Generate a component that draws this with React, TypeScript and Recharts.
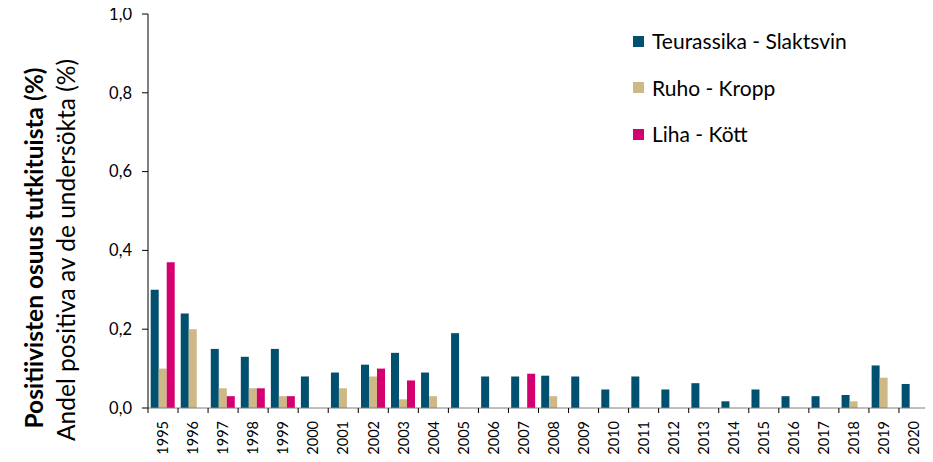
import React from 'react';
import { BarChart, Bar, XAxis, YAxis } from 'recharts';

const years = ['1995','1996','1997','1998','1999','2000','2001','2002','2003','2004','2005','2006','2007','2008','2009','2010','2011','2012','2013','2014','2015','2016','2017','2018','2019','2020'];
const slaktsvin = [0.30,0.24,0.15,0.13,0.15,0.08,0.09,0.11,0.14,0.09,0.19,0.08,0.08,0.082,0.08,0.047,0.08,0.047,0.063,0.017,0.047,0.03,0.03,0.033,0.108,0.061];
const kropp = [0.10,0.20,0.05,0.05,0.03,null,0.05,0.08,0.022,0.03,null,null,null,0.03,null,null,null,null,null,null,null,null,null,0.017,0.077,null];
const kott = [0.37,null,0.03,0.05,0.03,null,null,0.10,0.07,null,null,null,0.087,null,null,null,null,null,null,null,null,null,null,null,null,null];
const yTicks = [0, 0.2, 0.4, 0.6, 0.8, 1.0];
const seriesNames = ['Teurassika - Slaktsvin', 'Ruho - Kropp', 'Liha - Kött'];
const colors = ['#02506F', '#CDB886', '#D4006F'];

const data = years.map((y, i) => ({ year: y, s: slaktsvin[i], k: kropp[i], m: kott[i] }));

const FONT = 'Lato, "Open Sans", sans-serif';

const XTick = (props: any) => {
  const { x, y, payload, index } = props;
  const off = payload && typeof payload.offset === 'number' ? payload.offset : 15.02;
  const isLast = index === years.length - 1;
  return (
    <g>
      <line x1={x - off} x2={x - off} y1={y} y2={y + 5} stroke="#000" strokeWidth={1} />
      {isLast && <line x1={x + off} x2={x + off} y1={y} y2={y + 5} stroke="#000" strokeWidth={1} />}
      <text transform={`translate(${x},${y + 13}) rotate(-90)`} textAnchor="end" dy="0.36em" fontSize={14.5} fontFamily={FONT} fill="#000">
        {payload.value}
      </text>
    </g>
  );
};

const LegendBox = () => (
  <div style={{ position: 'absolute', left: 633, top: 18, fontFamily: FONT, fontSize: 21, color: '#000', lineHeight: '24px' }}>
    {seriesNames.map((n, i) => (
      <div key={n} style={{ display: 'flex', alignItems: 'center', height: 46.5 }}>
        <span style={{ display: 'inline-block', width: 11, height: 11, background: colors[i], marginRight: 8 }} />
        <span>{n}</span>
      </div>
    ))}
  </div>
);

const YLabel = () => (
  <g>
    <text transform="translate(34,248) rotate(-90)" textAnchor="middle" dy="0.35em" fontSize={24.5} fontWeight={700} fontFamily={FONT} fill="#000">
      Positiivisten osuus tutkituista (%)
    </text>
    <text transform="translate(66,250) rotate(-90)" textAnchor="middle" dy="0.35em" fontSize={24.5} fontFamily={FONT} fill="#000">
      Andel positiva av de undersökta (%)
    </text>
  </g>
);

export default function App() {
  return (
    <div style={{ position: 'relative', margin: -8, width: 933, height: 462 }}>
      <BarChart width={933} height={462} data={data} margin={{ top: 14, right: 4, left: 8, bottom: 0 }} barCategoryGap="9%" barGap={0}>
        <XAxis dataKey="year" height={54} tickLine={false} tickSize={0} tickMargin={0} interval={0} tick={<XTick />} axisLine={{ stroke: '#7f7f7f' }} />
        <YAxis width={140} domain={[0, 1]} ticks={yTicks} interval={0} tickSize={6} tickMargin={10}
          tickFormatter={(v: number) => v.toFixed(1).replace('.', ',')}
          tick={{ fontSize: 16.5, fontFamily: FONT, fill: '#000' }}
          axisLine={{ stroke: '#000' }} tickLine={{ stroke: '#000' }}
          label={<YLabel />} />
        <Bar dataKey="s" name={seriesNames[0]} fill={colors[0]} isAnimationActive={false} />
        <Bar dataKey="k" name={seriesNames[1]} fill={colors[1]} isAnimationActive={false} />
        <Bar dataKey="m" name={seriesNames[2]} fill={colors[2]} isAnimationActive={false} />
      </BarChart>
      <LegendBox />
    </div>
  );
}
